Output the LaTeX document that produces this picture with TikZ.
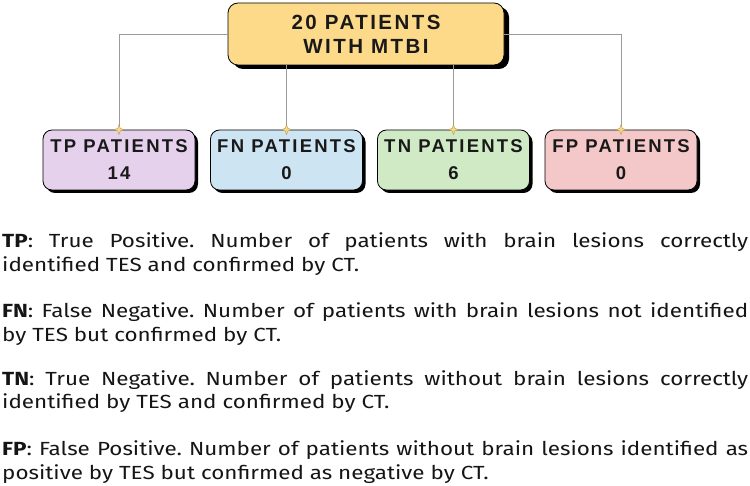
\documentclass[tikz,border=0pt]{standalone}
\usepackage{fontspec}
\setmainfont{Fira Sans}[FakeStretch=1.18]
\newfontfamily\boxfont{Liberation Sans}[LetterSpace=12]
\usetikzlibrary{shadows}
\definecolor{topfill}{HTML}{FDDA8A}
\definecolor{tpfill}{HTML}{E6D1EC}
\definecolor{fnfill}{HTML}{CDE4F3}
\definecolor{tnfill}{HTML}{D0EAC6}
\definecolor{fpfill}{HTML}{F4C8C8}
\definecolor{linegray}{HTML}{9A9A9A}
\definecolor{starfill}{HTML}{F6D98A}
\definecolor{staredge}{HTML}{B89A50}
\definecolor{txt}{HTML}{151515}
\frenchspacing
\tikzset{
  topbox/.style={draw=black, line width=0.8pt, fill=topfill, rounded corners=10pt,
    minimum width=276pt, minimum height=62pt, align=center, inner sep=0pt,
    font=\boxfont\bfseries\fontsize{20.5}{24}\selectfont, text=black!90,
    drop shadow={shadow xshift=5pt, shadow yshift=-4pt, fill=black, opacity=1}},
  childbox/.style={draw=black, line width=0.8pt, rounded corners=9pt,
    minimum width=152pt, minimum height=60pt, align=center, inner sep=0pt,
    font=\boxfont\bfseries\fontsize{18.5}{27}\selectfont, text=black!90,
    drop shadow={shadow xshift=3pt, shadow yshift=-3pt, fill=black, opacity=1}},
  conn/.style={draw=linegray, line width=0.9pt},
  para/.style={anchor=base west, text width=746pt, align=justify, inner sep=0pt,
    font=\fontsize{19}{24}\selectfont, text=txt},
  starmark/.pic={\fill[starfill, draw=staredge, line width=0.4pt]
    (0,5) -- (1.3,1.3) -- (5,0) -- (1.3,-1.3) -- (0,-5) -- (-1.3,-1.3) -- (-5,0) -- (-1.3,1.3) -- cycle;}
}
\begin{document}
\begin{tikzpicture}[x=1pt,y=1pt]
\useasboundingbox (0,0) rectangle (750,-486);
\node[topbox] (top) at (366,-34) {20 PATIENTS\\WITH MTBI};
\node[childbox, fill=tpfill] (tp) at (119,-160) {TP PATIENTS\\14};
\node[childbox, fill=fnfill] (fn) at (286.5,-160) {FN PATIENTS\\0};
\node[childbox, fill=tnfill] (tn) at (453.5,-160) {TN PATIENTS\\6};
\node[childbox, fill=fpfill] (fp) at (621,-160) {FP PATIENTS\\0};
\draw[conn] (top.west) -| (tp.north);
\draw[conn] (top.east) -| (fp.north);
\draw[conn] (top.south -| fn.north) -- (fn.north);
\draw[conn] (top.south -| tn.north) -- (tn.north);
\foreach \n in {tp,fn,tn,fp} \pic at (\n.north) {starmark};
\node[para] (ptp) at (2,-248) {\textbf{TP}: True Positive. Number of patients with brain lesions correctly\linebreak identified TES and confirmed by CT.};
\node[para] (pfn) at (2,-318) {\textbf{FN}: False Negative. Number of patients with brain lesions not identified\linebreak by TES but confirmed by CT.};
\node[para] (ptn) at (2,-385) {\textbf{TN}: True Negative. Number of patients without brain lesions correctly\linebreak identified by TES and confirmed by CT.};
\node[para] (pfp) at (2,-455) {\textbf{FP}: False Positive. Number of patients without brain lesions identified as\linebreak positive by TES but confirmed as negative by CT.};
\end{tikzpicture}
\end{document}
